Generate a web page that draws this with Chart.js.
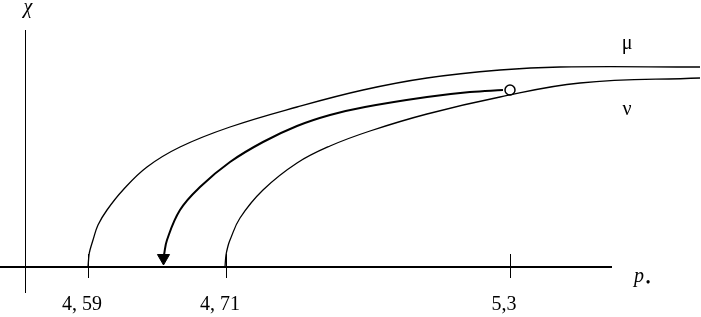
<!DOCTYPE html>
<html>
<head>
<meta charset="utf-8">
<script src="https://cdn.jsdelivr.net/npm/chart.js@4.4.0/dist/chart.umd.min.js"></script>
<style>
  html, body { margin: 0; padding: 0; background: #fff; }
  .chart-box { width: 701px; height: 317px; position: relative; }
</style>
</head>
<body>
<div class="chart-box"><canvas id="myChart"></canvas></div>
<script>
// schematic units: x along p*, y along chi (origin at the axes crossing)
const tickValues = [63, 201, 485];
const tickLabels = ['4, 59', '4, 71', '5,3'];

// upper curve (mu)
const muX = [63, 64, 65, 68, 73, 82, 98, 122, 155, 205, 272, 338, 402, 475, 535, 675];
const muY = [0, 12, 17, 27, 42, 57, 77, 100, 120, 140, 160, 177, 189, 197, 200, 200];

// lower curve (nu)
const nuX = [200, 201, 203, 205, 215, 238, 272, 305, 345, 402, 475, 555, 675];
const nuY = [0, 12, 21, 27, 49, 77, 104, 121, 136, 153, 170, 184, 189];

// path from the circle down to the axis (arrow)
const pathX = [139, 142, 155, 175, 205, 238, 272, 305, 340, 402, 445, 478];
const pathY = [12, 27, 57, 80, 105, 125, 141, 152, 160, 170, 175, 177];

const circlePoint = [485, 177];
const arrowPoint = [138.5, 9];

function toPoints(xs, ys) {
  return xs.map((x, i) => ({ x: x, y: ys[i] }));
}

// axes, ticks and labels drawn by hand
const schemePlugin = {
  id: 'scheme',
  beforeDatasetsDraw(chart) {
    const ctx = chart.ctx;
    const sx = chart.scales.x;
    const sy = chart.scales.y;
    ctx.save();
    ctx.strokeStyle = '#000';

    // p* axis
    ctx.lineWidth = 2;
    ctx.beginPath();
    ctx.moveTo(sx.getPixelForValue(-25), sy.getPixelForValue(0));
    ctx.lineTo(sx.getPixelForValue(587), sy.getPixelForValue(0));
    ctx.stroke();

    // chi axis
    ctx.lineWidth = 1;
    ctx.beginPath();
    ctx.moveTo(sx.getPixelForValue(0) + 0.5, sy.getPixelForValue(237));
    ctx.lineTo(sx.getPixelForValue(0) + 0.5, sy.getPixelForValue(-26));
    ctx.stroke();

    // tick marks
    tickValues.forEach(v => {
      const px = Math.round(sx.getPixelForValue(v)) + 0.5;
      ctx.beginPath();
      ctx.moveTo(px, sy.getPixelForValue(13));
      ctx.lineTo(px, sy.getPixelForValue(-11));
      ctx.stroke();
    });

    ctx.fillStyle = '#000';
    ctx.textBaseline = 'middle';
    ctx.textAlign = 'center';
    ctx.font = '20px "Liberation Serif", "Times New Roman", serif';
    tickValues.forEach((v, i) => {
      ctx.fillText(tickLabels[i], sx.getPixelForValue(v) - 6, sy.getPixelForValue(-38));
    });

    ctx.fillText('\u03BC', sx.getPixelForValue(602), sy.getPixelForValue(223));
    ctx.fillText('\u03BD', sx.getPixelForValue(602), sy.getPixelForValue(157));

    ctx.font = 'italic 20px "Liberation Serif", "Times New Roman", serif';
    ctx.fillText('\u03C7', sx.getPixelForValue(3), sy.getPixelForValue(259));
    ctx.fillText('p', sx.getPixelForValue(614), sy.getPixelForValue(-10));
    ctx.font = 'bold 12px "Liberation Serif", serif';
    ctx.fillText('\u2022', sx.getPixelForValue(623), sy.getPixelForValue(-16));
    ctx.restore();
  }
};

var ctx = document.getElementById('myChart').getContext('2d');

var myChart = new Chart(ctx, {
  type: 'scatter',
  data: {
    datasets: [
      {
        label: 'mu',
        data: toPoints(muX, muY),
        showLine: true,
        borderColor: '#000',
        borderWidth: 1.3,
        pointRadius: 0,
        tension: 0.4
      },
      {
        label: 'nu',
        data: toPoints(nuX, nuY),
        showLine: true,
        borderColor: '#000',
        borderWidth: 1.3,
        pointRadius: 0,
        tension: 0.4
      },
      {
        label: 'path',
        data: toPoints(pathX, pathY),
        showLine: true,
        borderColor: '#000',
        borderWidth: 2,
        pointRadius: 0,
        tension: 0.4
      },
      {
        label: 'arrow',
        data: [{ x: arrowPoint[0], y: arrowPoint[1] }],
        pointStyle: 'triangle',
        rotation: 180,
        pointRadius: 7,
        backgroundColor: '#000',
        borderColor: '#000',
        borderWidth: 1
      },
      {
        label: 'start',
        data: [{ x: circlePoint[0], y: circlePoint[1] }],
        pointStyle: 'circle',
        pointRadius: 5,
        backgroundColor: '#fff',
        borderColor: '#000',
        borderWidth: 1.5
      }
    ]
  },
  options: {
    responsive: true,
    maintainAspectRatio: false,
    animation: false,
    layout: { padding: 0, autoPadding: false },
    plugins: {
      legend: { display: false },
      tooltip: { enabled: false }
    },
    scales: {
      x: { type: 'linear', display: false, min: -25, max: 676 },
      y: { type: 'linear', display: false, min: -50, max: 267 }
    }
  },
  plugins: [schemePlugin]
});
</script>
</body>
</html>
